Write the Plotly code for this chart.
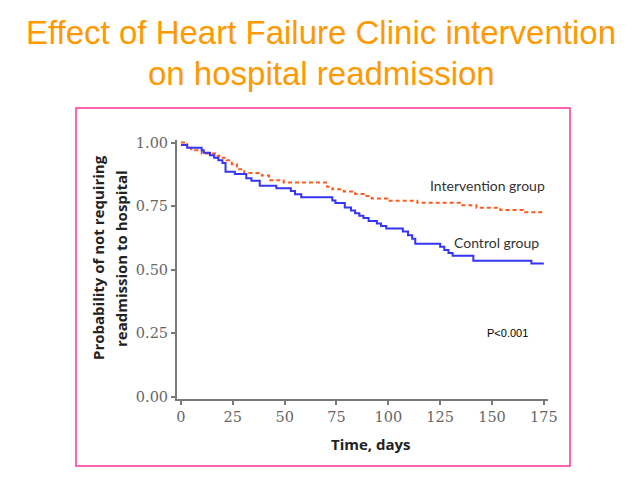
import plotly.graph_objects as go

# ---- data ----
control_days = [0, 3, 10, 11, 14, 16, 18, 20, 21.5, 26, 31.5, 34, 38, 46, 53, 55, 58, 73, 74.5, 79, 82,
                84, 86, 88, 90.5, 94.5, 96.5, 99, 107, 109.5, 111.5, 113, 125, 127, 129, 131, 141, 169, 175]
control_surv = [0.99, 0.98, 0.97, 0.96, 0.95, 0.94, 0.93, 0.92, 0.885, 0.876, 0.86, 0.85, 0.83, 0.82, 0.81,
                0.797, 0.785, 0.772, 0.762, 0.745, 0.733, 0.722, 0.712, 0.703, 0.692, 0.682, 0.672, 0.662,
                0.65, 0.636, 0.622, 0.602, 0.59, 0.578, 0.566, 0.555, 0.535, 0.525, 0.525]

interv_days = [0, 3, 5, 10, 17, 18.5, 22, 24.5, 27, 30.5, 39, 42.5, 49.5, 70.5, 73, 78.5, 84, 89, 92,
               99.5, 114, 134.5, 142.5, 154, 165, 175]
interv_surv = [1.0, 0.98, 0.97, 0.957, 0.948, 0.94, 0.93, 0.915, 0.895, 0.88, 0.87, 0.852, 0.843, 0.826,
               0.816, 0.808, 0.798, 0.79, 0.78, 0.771, 0.763, 0.754, 0.744, 0.735, 0.726, 0.726]

x_ticks = [0, 25, 50, 75, 100, 125, 150, 175]
y_ticks = [0.0, 0.25, 0.5, 0.75, 1.0]
y_tick_text = ["0.00", "0.25", "0.50", "0.75", "1.00"]

title_lines = ["Effect of Heart Failure Clinic intervention", "on hospital readmission"]
y_title_lines = ["Probability of not requiring", "readmission to hospital"]

# ---- layout geometry (pixels) ----
W, H = 633, 482
L, R, T, B = 177, 548, 140, 399


def px(xp):
    return (xp - L) / (R - L)


def py(yp):
    return (B - yp) / (B - T)


fig = go.Figure()
fig.add_trace(go.Scatter(x=interv_days, y=interv_surv, mode="lines", line_shape="hv",
                         line=dict(color="#ff5a1f", width=2, dash="4px,3px"), showlegend=False,
                         hoverinfo="skip"))
fig.add_trace(go.Scatter(x=control_days, y=control_surv, mode="lines", line_shape="hv",
                         line=dict(color="#3535f5", width=2), showlegend=False, hoverinfo="skip"))

axis_col = "#7a7a7a"
tick_font = dict(family="DejaVu Serif", size=14.5, color="#666666")

fig.update_xaxes(range=[-1.9, 177], tickvals=x_ticks, ticks="outside", ticklen=4, tickwidth=1.5,
                 tickcolor=axis_col, showline=True, linecolor=axis_col, linewidth=2, showgrid=False,
                 zeroline=False, tickfont=tick_font)
fig.update_yaxes(range=[-0.008, 1.01], tickvals=y_ticks, ticktext=y_tick_text, ticks="outside",
                 ticklen=4, tickwidth=1.5, tickcolor=axis_col, showline=True, linecolor=axis_col,
                 linewidth=2, showgrid=False, zeroline=False, tickfont=tick_font)

title_font = dict(family="Liberation Sans", size=33, color="#ff9900")
ytitle_font = dict(family="Open Sans", size=15, color="#222222")
label_font = dict(family="Lato", size=14, color="#333333")

annotations = [
    dict(text=title_lines[0], x=px(321), y=py(33), xref="paper", yref="paper", showarrow=False,
         font=title_font, xanchor="center", yanchor="middle"),
    dict(text=title_lines[1], x=px(321), y=py(73), xref="paper", yref="paper", showarrow=False,
         font=title_font, xanchor="center", yanchor="middle"),
    dict(text="<b>" + y_title_lines[0] + "</b>", x=px(98), y=py(258), xref="paper", yref="paper",
         showarrow=False, textangle=-90, font=ytitle_font, xanchor="center", yanchor="middle"),
    dict(text="<b>" + y_title_lines[1] + "</b>", x=px(121), y=py(259), xref="paper", yref="paper",
         showarrow=False, textangle=-90, font=ytitle_font, xanchor="center", yanchor="middle"),
    dict(text="<b>Time, days</b>", x=px(371), y=py(444), xref="paper", yref="paper", showarrow=False,
         font=dict(family="Open Sans", size=15, color="#222222"), xanchor="center", yanchor="middle"),
    dict(text="Intervention group", x=148, y=0.833, xref="x", yref="y", showarrow=False,
         font=label_font, xanchor="center", yanchor="middle"),
    dict(text="Control group", x=152.4, y=0.609, xref="x", yref="y", showarrow=False,
         font=label_font, xanchor="center", yanchor="middle"),
    dict(text="P<0.001", x=157.7, y=0.251, xref="x", yref="y", showarrow=False,
         font=dict(family="Liberation Sans", size=11, color="#000000"), xanchor="center", yanchor="middle"),
]

shapes = [dict(type="rect", xref="paper", yref="paper", x0=px(76), x1=px(570), y0=py(466), y1=py(108),
               line=dict(color="#ff3399", width=1.5), fillcolor="rgba(0,0,0,0)", layer="below")]

fig.update_layout(width=W, height=H, margin=dict(l=L, r=W - R, t=T, b=H - B),
                  paper_bgcolor="white", plot_bgcolor="white", annotations=annotations, shapes=shapes)

fig.write_html("out.html")
